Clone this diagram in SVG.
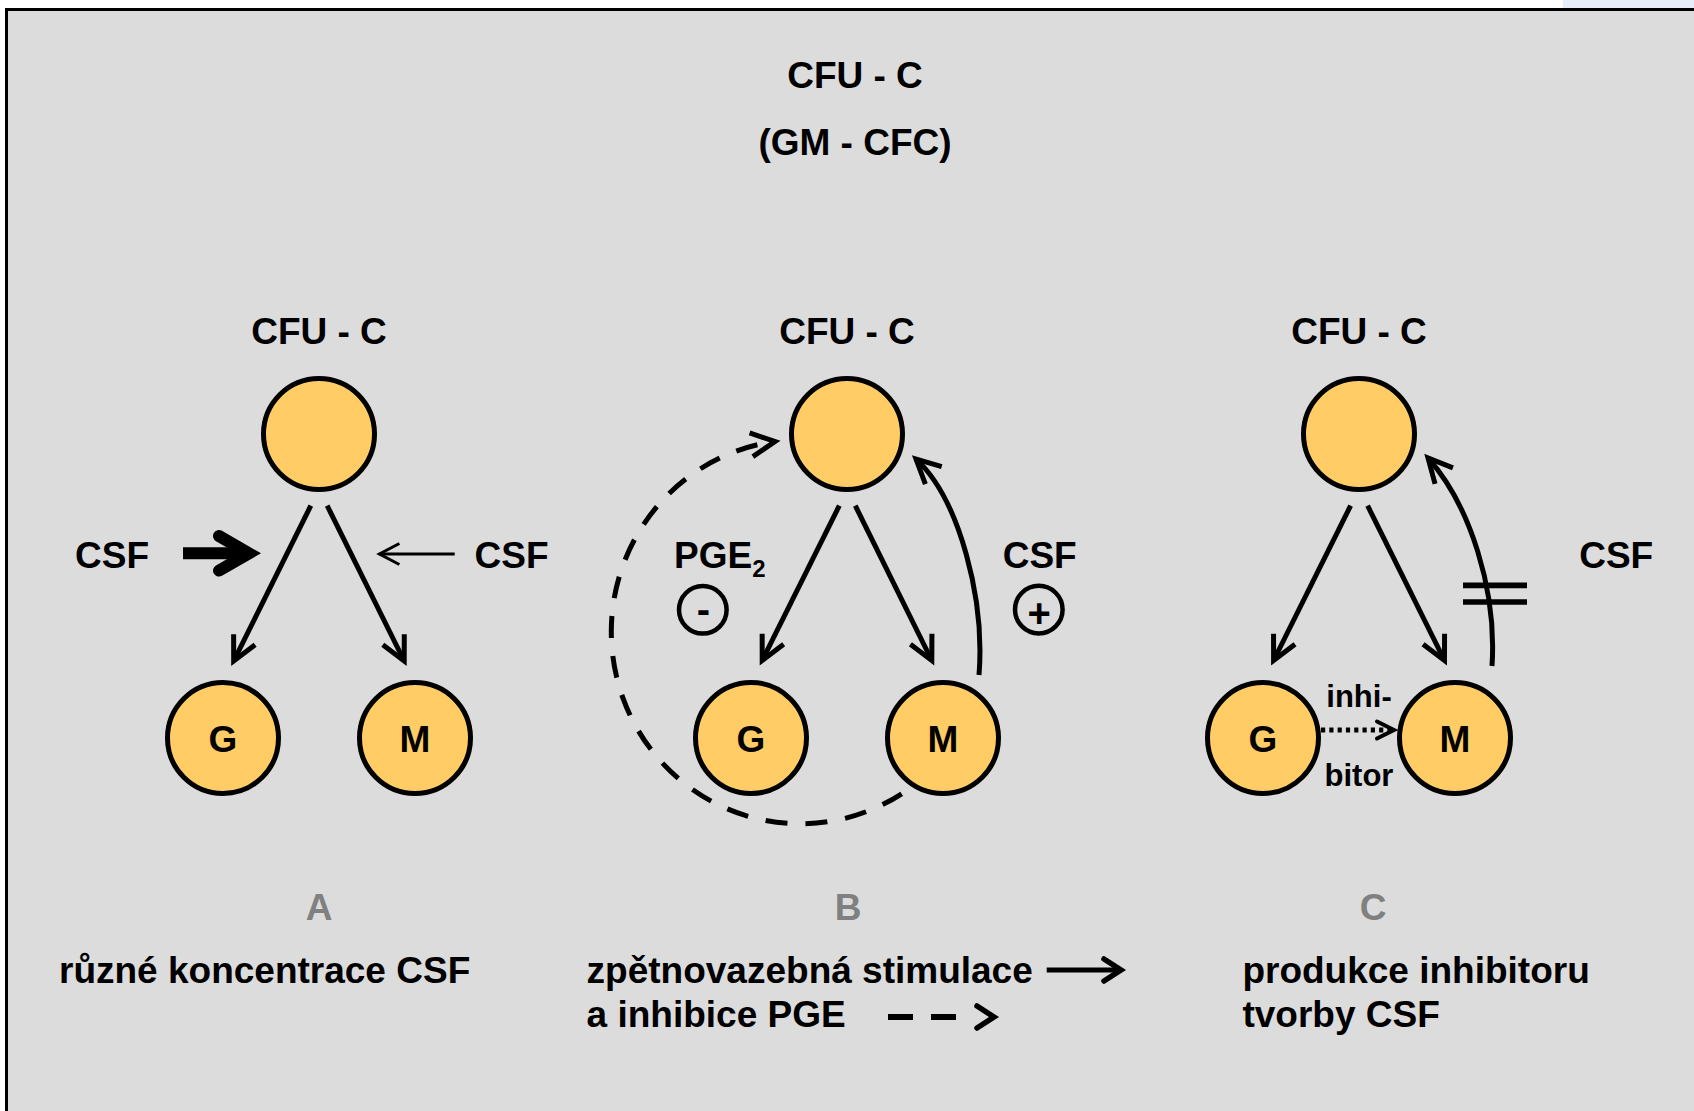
<svg xmlns="http://www.w3.org/2000/svg" width="1694" height="1111" viewBox="0 0 1694 1111">
<style>
text{font-family:"Liberation Sans",Arial,sans-serif;font-weight:bold;fill:#000}
.t37{font-size:37px}
.mid{text-anchor:middle}
.gray{fill:#808080}
.cell{fill:#FFCC66;stroke:#000;stroke-width:5}
.ln{fill:none;stroke:#000;stroke-width:5}
.sign{fill:none;stroke:#000;stroke-width:4.5}
</style>
<defs>
<marker id="ah" markerUnits="userSpaceOnUse" orient="auto" refX="0" refY="0" markerWidth="1" markerHeight="1" style="overflow:visible">
<path d="M-24,-12 L0,0 L-24,12" fill="none" stroke="#000" stroke-width="5"/>
</marker>
<marker id="ahThin" markerUnits="userSpaceOnUse" orient="auto" refX="0" refY="0" markerWidth="1" markerHeight="1" style="overflow:visible">
<path d="M-20,-10.5 L0,0 L-20,10.5" fill="none" stroke="#000" stroke-width="3"/>
</marker>
<marker id="ahDot" markerUnits="userSpaceOnUse" orient="auto" refX="0" refY="0" markerWidth="1" markerHeight="1" style="overflow:visible">
<path d="M-17,-8.5 L0,0 L-17,8.5" fill="none" stroke="#000" stroke-width="4" stroke-linecap="round"/>
</marker>
<marker id="ahLeg" markerUnits="userSpaceOnUse" orient="auto" refX="0" refY="0" markerWidth="1" markerHeight="1" style="overflow:visible">
<path d="M-17,-11 L0,0 L-17,11" fill="none" stroke="#000" stroke-width="5.5" stroke-linecap="round"/>
</marker>
</defs>

<rect x="0" y="0" width="1694" height="1111" fill="#ffffff"/>
<rect x="1563" y="0" width="131" height="9" fill="#e6eefa"/>
<rect x="6.5" y="9.5" width="1700" height="1120" fill="#dcdcdc" stroke="#000" stroke-width="3"/>

<g id="title">
<text class="t37 mid" x="855" y="88">CFU - C</text>
<text class="t37 mid" x="855" y="155">(GM - CFC)</text>
</g>

<!-- Panel A -->
<g id="A-top"><text class="t37 mid" x="319" y="344">CFU - C</text><circle class="cell" cx="319" cy="434" r="55.5"/></g>
<g id="A-G"><circle class="cell" cx="223" cy="738" r="55.5"/><text class="t37 mid" x="223" y="752">G</text></g>
<g id="A-M"><circle class="cell" cx="415" cy="738" r="55.5"/><text class="t37 mid" x="415" y="752">M</text></g>
<g id="A-labels">
<text class="t37" x="75" y="567.5">CSF</text>
<text class="t37" x="474.5" y="567.5">CSF</text>
<text class="t37 mid gray" x="319" y="920">A</text>
<text class="t37" x="59" y="983">různé koncentrace CSF</text>
</g>

<!-- Panel B -->
<g id="B-top"><text class="t37 mid" x="847" y="344">CFU - C</text><circle class="cell" cx="847" cy="434" r="55.5"/></g>
<g id="B-G"><circle class="cell" cx="751" cy="738" r="55.5"/><text class="t37 mid" x="751" y="752">G</text></g>
<g id="B-M"><circle class="cell" cx="943" cy="738" r="55.5"/><text class="t37 mid" x="943" y="752">M</text></g>
<g id="B-labels">
<text class="t37" x="674" y="567.5">PGE<tspan font-size="24" dy="9">2</tspan></text>
<circle class="sign" cx="702.8" cy="609.8" r="23.8"/>
<text class="mid" font-size="40" x="703.3" y="623">-</text>
<text class="t37" x="1002.7" y="567.5">CSF</text>
<circle class="sign" cx="1038.8" cy="609.6" r="23.8"/>
<text class="mid" font-size="40" x="1039.2" y="627">+</text>
<text class="t37 mid gray" x="848" y="920">B</text>
<text class="t37" x="586.6" y="983">zpětnovazebná stimulace</text>
<text class="t37" x="586.6" y="1026.7">a inhibice PGE</text>
</g>

<!-- Panel C -->
<g id="C-top"><text class="t37 mid" x="1359" y="344">CFU - C</text><circle class="cell" cx="1359" cy="434" r="55.5"/></g>
<g id="C-G"><circle class="cell" cx="1263" cy="738" r="55.5"/><text class="t37 mid" x="1263" y="752">G</text></g>
<g id="C-M"><circle class="cell" cx="1455" cy="738" r="55.5"/><text class="t37 mid" x="1455" y="752">M</text></g>
<g id="C-labels">
<text class="t37" x="1579.2" y="567.5">CSF</text>
<text class="mid" font-size="31" x="1359" y="706.8">inhi-</text>
<text class="mid" font-size="31" x="1359" y="786.4">bitor</text>
<text class="t37 mid gray" x="1373" y="920">C</text>
<text class="t37" x="1242.4" y="983">produkce inhibitoru</text>
<text class="t37" x="1242.4" y="1026.7">tvorby CSF</text>
</g>

<g id="connectors">
<!-- A -->
<path class="ln" d="M310.8,505.7 L233.7,661" marker-end="url(#ah)"/>
<path class="ln" d="M327.2,505.7 L404.2,661" marker-end="url(#ah)"/>
<path d="M183,553.3 L249,553.3" fill="none" stroke="#000" stroke-width="12"/>
<path d="M219,536 L249,553.3 L219,570.6" fill="none" stroke="#000" stroke-width="12" stroke-linecap="round"/>
<path d="M454.7,554 L379.4,554" fill="none" stroke="#000" stroke-width="3" marker-end="url(#ahThin)"/>
<!-- B -->
<path class="ln" d="M839.3,505.7 L762.2,660.5" marker-end="url(#ah)"/>
<path class="ln" d="M855.3,505.7 L931.8,660.5" marker-end="url(#ah)"/>
<path class="ln" d="M979,675 C985,600 960,500 916,459" marker-end="url(#ah)"/>
<path class="ln" d="M901.7,793.8 A189,192 0 1 1 775,441.5" stroke-dasharray="22 18" marker-end="url(#ah)"/>
<!-- C -->
<path class="ln" d="M1350.6,505.7 L1273.6,660.5" marker-end="url(#ah)"/>
<path class="ln" d="M1367.6,505.7 L1444.5,660.5" marker-end="url(#ah)"/>
<path class="ln" d="M1492,666 C1497,590 1470,505 1428,458" marker-end="url(#ah)"/>
<path d="M1463,585.4 H1527 M1463,602 H1527" fill="none" stroke="#000" stroke-width="5.7"/>
<path d="M1321,730 L1394,730" fill="none" stroke="#000" stroke-width="5" stroke-dasharray="4.2 4.1" marker-end="url(#ahDot)"/>
<!-- legend -->
<path d="M1046.7,970 L1121,970" fill="none" stroke="#000" stroke-width="5" marker-end="url(#ahLeg)"/>
<path d="M888,1017 L994,1017" fill="none" stroke="#000" stroke-width="6" stroke-dasharray="25 18 25 100" marker-end="url(#ahLeg)"/>
</g>
</svg>
